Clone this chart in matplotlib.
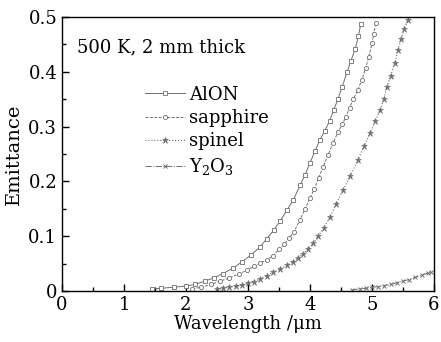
import matplotlib
matplotlib.use("Agg")
import matplotlib.pyplot as plt

plt.rcParams['font.family'] = ['DejaVu Serif']
plt.rcParams['mathtext.fontset'] = 'dejavuserif'

# AlON
alon_x = [1.45, 1.6, 1.8, 2.0, 2.15, 2.3, 2.45, 2.6, 2.76, 2.9, 3.05, 3.19, 3.3,
          3.42, 3.52, 3.63, 3.73, 3.84, 3.92, 4.0, 4.08, 4.16, 4.24, 4.32, 4.38,
          4.45, 4.52, 4.6, 4.66, 4.73, 4.78, 4.82]
alon_y = [0.004, 0.005, 0.007, 0.009, 0.012, 0.018, 0.024, 0.032, 0.042, 0.053,
          0.066, 0.080, 0.095, 0.112, 0.128, 0.148, 0.166, 0.193, 0.212, 0.234,
          0.255, 0.276, 0.293, 0.311, 0.330, 0.350, 0.373, 0.400, 0.420, 0.442,
          0.465, 0.488]

# sapphire
sapph_x = [2.1, 2.25, 2.4, 2.55, 2.7, 2.85, 2.98, 3.1, 3.2, 3.3, 3.4, 3.5, 3.58,
           3.66, 3.74, 3.84, 3.92, 4.0, 4.07, 4.14, 4.21, 4.29, 4.37, 4.45, 4.52,
           4.58, 4.64, 4.70, 4.77, 4.84, 4.90, 4.95, 5.00, 5.03, 5.06]
sapph_y = [0.004, 0.007, 0.012, 0.018, 0.024, 0.031, 0.038, 0.045, 0.051, 0.057,
           0.064, 0.076, 0.085, 0.096, 0.108, 0.130, 0.150, 0.170, 0.186, 0.207,
           0.226, 0.248, 0.270, 0.290, 0.304, 0.318, 0.335, 0.350, 0.367, 0.386,
           0.408, 0.428, 0.452, 0.470, 0.490]

# spinel
spin_x = [2.5, 2.6, 2.7, 2.8, 2.9, 3.0, 3.1, 3.19, 3.3, 3.4, 3.52, 3.63, 3.72,
          3.80, 3.88, 3.96, 4.05, 4.13, 4.22, 4.32, 4.42, 4.53, 4.65, 4.77, 4.87,
          4.97, 5.05, 5.13, 5.19, 5.24, 5.30, 5.37, 5.42, 5.47, 5.52, 5.58]
spin_y = [0.003, 0.005, 0.007, 0.009, 0.011, 0.014, 0.017, 0.022, 0.028, 0.034,
          0.040, 0.047, 0.053, 0.060, 0.067, 0.076, 0.087, 0.100, 0.115, 0.135,
          0.158, 0.184, 0.210, 0.239, 0.264, 0.288, 0.310, 0.330, 0.350, 0.372,
          0.393, 0.416, 0.440, 0.460, 0.478, 0.495]

# Y2O3
y2o3_x = [4.68, 4.8, 4.9, 5.0, 5.1, 5.2, 5.3, 5.4, 5.5, 5.6, 5.7, 5.8, 5.9, 5.95]
y2o3_y = [0.002, 0.004, 0.005, 0.007, 0.008, 0.010, 0.012, 0.015, 0.018, 0.021,
          0.025, 0.029, 0.033, 0.035]

x_ticks = [0, 1, 2, 3, 4, 5, 6]
y_ticks = [0, 0.1, 0.2, 0.3, 0.4, 0.5]
y_ticklabels = ['0', '0.1', '0.2', '0.3', '0.4', '0.5']

gray = '#6e6e6e'

fig = plt.figure(figsize=(4.41, 3.42), dpi=100)
ax = fig.add_axes([0.1406, 0.149, 0.8435, 0.801])

ax.plot(alon_x, alon_y, '-', color=gray, lw=0.7, marker='s', ms=3,
        mfc='white', mec=gray, mew=0.6, label='AlON')
ax.plot(sapph_x, sapph_y, '--', color=gray, lw=0.7, marker='o', ms=3,
        mfc='white', mec=gray, mew=0.6, label='sapphire', dashes=(3, 1.5))
ax.plot(spin_x, spin_y, ':', color=gray, lw=0.8, marker='*', ms=4.5,
        mfc=gray, mec=gray, mew=0.4, label='spinel')
ax.plot(y2o3_x, y2o3_y, '-.', color=gray, lw=0.7, marker='x', ms=3,
        mec=gray, mew=0.7, label='Y$_2$O$_3$')

ax.set_xlim(0, 6)
ax.set_ylim(0, 0.5)
ax.set_xticks(x_ticks)
ax.set_xticklabels([str(t) for t in x_ticks])
ax.set_xticks([0.5, 1.5, 2.5, 3.5, 4.5, 5.5], minor=True)
ax.set_yticks(y_ticks)
ax.set_yticklabels(y_ticklabels)
ax.set_yticks([0.05, 0.15, 0.25, 0.35, 0.45], minor=True)
ax.tick_params(which='both', direction='in', top=False, right=False,
               labelsize=13, width=1)
ax.tick_params(which='major', length=5)
ax.tick_params(which='minor', length=3)
for s in ax.spines.values():
    s.set_linewidth(1)

ax.set_xlabel('Wavelength /μm', fontsize=13, labelpad=1)
ax.set_ylabel('Emittance', fontsize=14, labelpad=4)

ax.text(0.04, 0.89, '500 K, 2 mm thick', transform=ax.transAxes, fontsize=13,
        va='center')
ax.legend(loc='upper left', bbox_to_anchor=(0.223, 0.75), frameon=False,
          fontsize=13, handlelength=2.2, handletextpad=0.25, labelspacing=0.3,
          borderpad=0, borderaxespad=0)

fig.savefig('out.png', dpi=100)
